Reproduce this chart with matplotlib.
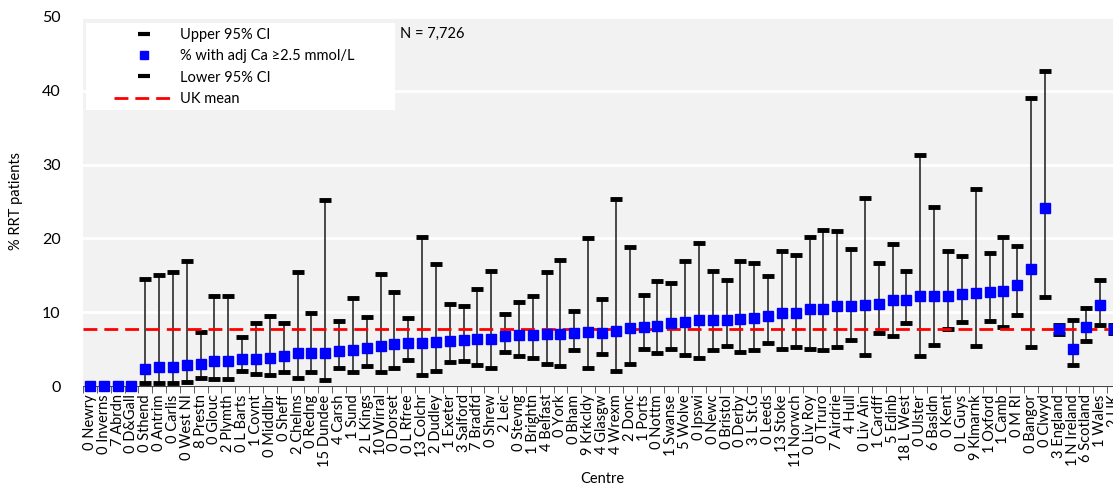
import numpy as np
import matplotlib
matplotlib.use('Agg')
import matplotlib.pyplot as plt
from matplotlib.lines import Line2D
from matplotlib.patches import Rectangle

plt.rcParams['font.family'] = ['Lato', 'DejaVu Sans']

centres = ['0 Newry', '0 Inverns', '7 Abrdn', '0 D&Gall', '0 Sthend', '0 Antrim', '0 Carlis',
           '0 West NI', '8 Prestn', '0 Glouc', '2 Plymth', '0 L Barts', '1 Covnt', '0 Middlbr',
           '0 Sheff', '2 Chelms', '0 Redng', '15 Dundee', '4 Carsh', '1 Sund', '2 L Kings',
           '10 Wirral', '0 Dorset', '0 L Rfree', '13 Colchr', '2 Dudley', '1 Exeter', '3 Salford',
           '7 Bradfd', '0 Shrew', '2 Leic', '0 Stevng', '1 Brightn', '4 Belfast', '0 York',
           '0 Bham', '9 Krkcldy', '4 Glasgw', '4 Wrexm', '2 Donc', '1 Ports', '0 Nottm',
           '1 Swanse', '5 Wolve', '0 Ipswi', '0 Newc', '0 Bristol', '0 Derby', '3 L St.G',
           '0 Leeds', '13 Stoke', '11 Norwch', '0 Liv Roy', '0 Truro', '7 Airdrie', '4 Hull',
           '0 Liv Ain', '1 Cardff', '5 Edinb', '18 L West', '0 Ulster', '6 Basldn', '0 Kent',
           '0 L Guys', '9 Klmarnk', '1 Oxford', '1 Camb', '0 M RI', '0 Bangor', '0 Clwyd',
           '3 England', '1 N Ireland', '6 Scotland', '1 Wales', '2 UK']

pct = [0, 0, 0, 0, 2.37, 2.55, 2.55, 2.86, 3.04, 3.45, 3.45, 3.7, 3.7, 3.85, 4.07, 4.43, 4.43,
       4.5, 4.8, 4.88, 5.1, 5.42, 5.74, 5.83, 5.87, 5.96, 6.1, 6.19, 6.32, 6.4, 6.8, 6.9, 6.9,
       7.04, 7.08, 7.2, 7.3, 7.2, 7.49, 7.8, 7.94, 8.07, 8.57, 8.7, 8.93, 8.93, 8.93, 9.06, 9.2,
       9.47, 9.87, 9.87, 10.4, 10.4, 10.9, 10.86, 11.0, 11.08, 11.6, 11.7, 12.16, 12.16, 12.16,
       12.5, 12.6, 12.8, 12.88, 13.7, 15.9, 24.15, 7.7, 5.06, 7.98, 11.0, 7.75]

upper = [np.nan, np.nan, np.nan, np.nan, 14.5, 15.1, 15.5, 16.9, 7.35, 12.25, 12.25, 6.6, 8.5,
         9.5, 8.5, 15.5, 9.9, 25.2, 8.8, 11.97, 9.4, 15.17, 12.7, 9.24, 20.2, 16.47, 11.1, 10.9,
         13.19, 15.57, 9.82, 11.35, 12.25, 15.48, 17.1, 10.2, 20.0, 11.75, 25.3, 18.85, 12.3,
         14.27, 14.0, 16.9, 19.4, 15.6, 14.4, 17.0, 16.6, 14.95, 18.36, 17.8, 20.15, 21.15,
         20.96, 18.5, 25.5, 16.69, 19.3, 15.65, 31.3, 24.2, 18.26, 17.6, 26.7, 18.08, 20.24,
         19.0, 39.07, 42.7, 8.3, 9.0, 10.6, 14.4, 8.3]

lower = [np.nan, np.nan, np.nan, np.nan, 0.44, 0.44, 0.44, 0.5, 1.15, 0.93, 0.93, 2.1, 1.65,
         1.47, 1.87, 1.15, 1.9, 0.75, 2.5, 1.92, 2.73, 1.83, 2.41, 3.54, 1.51, 2.01, 3.27, 3.36,
         2.9, 2.46, 4.6, 4.03, 3.8, 3.0, 2.77, 4.9, 2.46, 4.39, 2.01, 3.04, 5.06, 4.48, 5.06,
         4.25, 3.76, 4.93, 5.38, 4.66, 4.9, 5.83, 5.06, 5.29, 5.06, 4.84, 5.29, 6.19, 4.25, 7.13,
         6.77, 8.6, 4.03, 5.6, 7.76, 8.65, 5.38, 8.87, 7.97, 9.63, 5.29, 12.0, 7.0, 2.8, 6.05,
         8.3, 7.2]

uk_mean = 7.7

W, H = 1113, 490
fig = plt.figure(figsize=(W / 100, H / 100), dpi=100)
# axes runs a bit past the right edge, like the original crop
ax = fig.add_axes([83 / W, 104 / H, 1038 / W, 369 / H])
ax.set_facecolor('#f2f2f2')

x = np.arange(len(centres))
# CI lines + caps
ax.vlines(x, lower, upper, color='#2b2b2b', linewidth=1.2, zorder=2)
ax.plot(x, upper, linestyle='none', marker='_', markersize=8, markeredgewidth=3.5,
        color='black', zorder=3)
ax.plot(x, lower, linestyle='none', marker='_', markersize=8, markeredgewidth=3.5,
        color='black', zorder=3)
ax.axhline(uk_mean, color='#ff0000', linestyle=(0, (5, 2.5)), linewidth=2, zorder=4)
ax.plot(x, pct, linestyle='none', marker='s', markersize=7, color='#0000ff', zorder=5,
        clip_on=False)

ax.set_xlim(-0.5, len(centres) - 0.5)
ax.set_ylim(0, 50)
ax.set_yticks(np.arange(0, 51, 10))
ax.yaxis.grid(True, color='white', linewidth=2)
ax.set_axisbelow(True)
ax.tick_params(axis='y', length=0, pad=16, labelsize=11.5)

ax.set_xticks(x)
ax.set_xticklabels(centres, rotation=90, fontsize=10.5)
ax.set_xticks(np.arange(-0.5, len(centres), 1), minor=True)
ax.tick_params(axis='x', which='major', length=0, pad=6)
ax.tick_params(axis='x', which='minor', length=5, color='#444444')

for s in ['top', 'right', 'left']:
    ax.spines[s].set_visible(False)
ax.spines['bottom'].set_color('#444444')

ax.set_ylabel('% RRT patients', fontsize=10.5, labelpad=14)
ax.set_xlabel('Centre', fontsize=10.5, labelpad=4)

# white legend box
fig.patches.append(Rectangle((86 / W, 1 - 110 / H), (395 - 86) / W, 87 / H,
                             transform=fig.transFigure, facecolor='white',
                             edgecolor='none', zorder=6))

handles = [
    Line2D([], [], linestyle='none', marker='_', markersize=8, markeredgewidth=3, color='black'),
    Line2D([], [], linestyle='none', marker='s', markersize=6, color='#0000ff'),
    Line2D([], [], linestyle='none', marker='_', markersize=8, markeredgewidth=3, color='black'),
    Line2D([], [], color='#ff0000', linestyle=(0, (5, 2.5)), linewidth=2),
]
labels = ['Upper 95% CI', '% with adj Ca \u22652.5 mmol/L', 'Lower 95% CI', 'UK mean']
leg = fig.legend(handles, labels, loc='upper left', bbox_to_anchor=(114 / W, 1 - 28 / H),
                 fontsize=10.5, frameon=False, handlelength=4.1, labelspacing=0.5,
                 borderpad=0, borderaxespad=0, handletextpad=0.45)
leg.set_zorder(7)
fig.text(400 / W, 1 - 34 / H, 'N = 7,726', fontsize=10.5, va='center', ha='left')

fig.savefig('out.png', dpi=100)
